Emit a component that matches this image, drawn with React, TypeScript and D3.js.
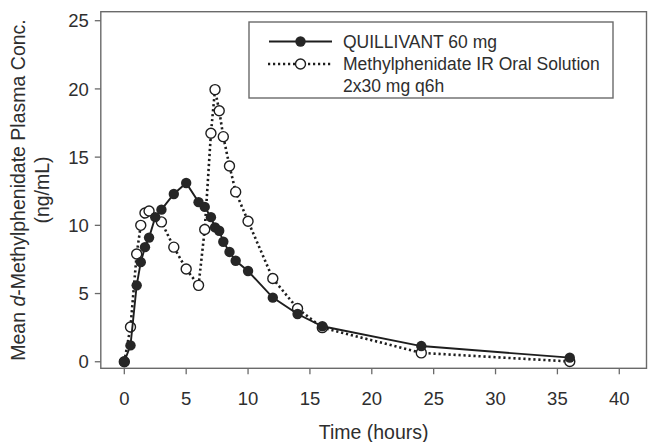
import * as d3 from "d3";

// Mean d-methylphenidate plasma concentration (ng/mL) vs time (hours)
const quillTimes = [0, 0.5, 1, 1.33, 1.67, 2, 2.5, 3, 4, 5, 6, 6.5, 7, 7.33, 7.67, 8, 8.5, 9, 10, 12, 14, 16, 24, 36];
const quillConc = [0, 1.2, 5.6, 7.3, 8.4, 9.1, 10.6, 11.15, 12.3, 13.1, 11.7, 11.35, 10.6, 9.85, 9.6, 8.8, 8.05, 7.4, 6.65, 4.7, 3.5, 2.6, 1.15, 0.3];

const irTimes = [0, 0.5, 1, 1.33, 1.67, 2, 3, 4, 5, 6, 6.5, 7, 7.33, 7.67, 8, 8.5, 9, 10, 12, 14, 16, 24, 36];
const irConc = [0, 2.55, 7.9, 10.0, 10.9, 11.05, 10.25, 8.4, 6.8, 5.6, 9.7, 16.75, 19.95, 18.4, 16.5, 14.35, 12.45, 10.3, 6.1, 3.9, 2.5, 0.65, 0.02];

const xTicks = [0, 5, 10, 15, 20, 25, 30, 35, 40];
const yTicks = [0, 5, 10, 15, 20, 25];

const W = 656;
const H = 442;
const FONT = "'Liberation Sans', Arial, Helvetica, sans-serif";
const INK = "#2e2e2e";
const FRAME = "#6a6a6a";
const DOTS = "2.2 2.8";

type Pt = { t: number; c: number };

export default function App() {
  const x = d3.scaleLinear().domain([-1.9, 42.2]).range([100.8, 646.5]);
  const y = d3.scaleLinear().domain([-0.48, 25.66]).range([368.3, 11.7]);

  const quill: Pt[] = quillTimes.map((t, i) => ({ t, c: quillConc[i] }));
  const ir: Pt[] = irTimes.map((t, i) => ({ t, c: irConc[i] }));

  const line = d3
    .line<Pt>()
    .x((d) => x(d.t))
    .y((d) => y(d.c));

  const [x0, x1] = x.range();
  const [y0, y1] = y.range();

  return (
    <svg
      width={W}
      height={H}
      style={{ position: "absolute", left: 0, top: 0, background: "#fff" }}
      fontFamily={FONT}
    >
      {/* frame */}
      <rect
        x={x0}
        y={y1}
        width={x1 - x0}
        height={y0 - y1}
        fill="none"
        stroke={FRAME}
        strokeWidth={1.4}
      />

      {/* y axis */}
      {yTicks.map((v) => (
        <g key={"y" + v}>
          <line x1={x0 - 6} x2={x0} y1={y(v)} y2={y(v)} stroke={FRAME} strokeWidth={1.3} />
          <text x={x0 - 12} y={y(v)} dy="0.36em" textAnchor="end" fontSize={18.5} fill={INK}>
            {v}
          </text>
        </g>
      ))}

      {/* x axis */}
      {xTicks.map((v) => (
        <g key={"x" + v}>
          <line x1={x(v)} x2={x(v)} y1={y0} y2={y0 + 6} stroke={FRAME} strokeWidth={1.3} />
          <text x={x(v)} y={404.5} textAnchor="middle" fontSize={18.5} fill={INK}>
            {v}
          </text>
        </g>
      ))}

      {/* axis titles */}
      <text x={(x0 + x1) / 2} y={439} textAnchor="middle" fontSize={19.5} fill={INK}>
        Time (hours)
      </text>
      <g transform={`translate(25, ${(y0 + y1) / 2}) rotate(-90)`}>
        <text textAnchor="middle" fontSize={19.5} fill={INK}>
          Mean <tspan fontStyle="italic">d</tspan>-Methylphenidate Plasma Conc.
        </text>
        <text y={24} textAnchor="middle" fontSize={19.5} fill={INK}>
          (ng/mL)
        </text>
      </g>

      {/* methylphenidate IR oral solution */}
      <path
        d={line(ir) ?? ""}
        fill="none"
        stroke="#1e1e1e"
        strokeWidth={2.6}
        strokeDasharray={DOTS}
      />
      {ir.map((d, i) => (
        <circle
          key={"ir" + i}
          cx={x(d.t)}
          cy={y(d.c)}
          r={5}
          fill="#fff"
          stroke="#1e1e1e"
          strokeWidth={1.4}
        />
      ))}

      {/* QUILLIVANT */}
      <path d={line(quill) ?? ""} fill="none" stroke="#1e1e1e" strokeWidth={1.9} />
      {quill.map((d, i) => (
        <circle key={"q" + i} cx={x(d.t)} cy={y(d.c)} r={5.2} fill="#262626" />
      ))}

      {/* legend */}
      <rect x={249} y={22} width={364} height={76} fill="#fff" stroke={FRAME} strokeWidth={1.4} />
      <line x1={269} x2={332} y1={41.5} y2={41.5} stroke="#1e1e1e" strokeWidth={1.9} />
      <circle cx={300.5} cy={41.5} r={5.2} fill="#262626" />
      <text x={343} y={47.5} fontSize={17.5} fill={INK}>
        QUILLIVANT 60 mg
      </text>
      <line
        x1={268}
        x2={331}
        y1={64}
        y2={64}
        stroke="#1e1e1e"
        strokeWidth={2.6}
        strokeDasharray={DOTS}
      />
      <circle cx={300.5} cy={64} r={5} fill="#fff" stroke="#1e1e1e" strokeWidth={1.4} />
      <text x={343} y={70} fontSize={17.5} fill={INK}>
        Methylphenidate IR Oral Solution
      </text>
      <text x={343} y={91.5} fontSize={17.5} fill={INK}>
        2x30 mg q6h
      </text>
    </svg>
  );
}
